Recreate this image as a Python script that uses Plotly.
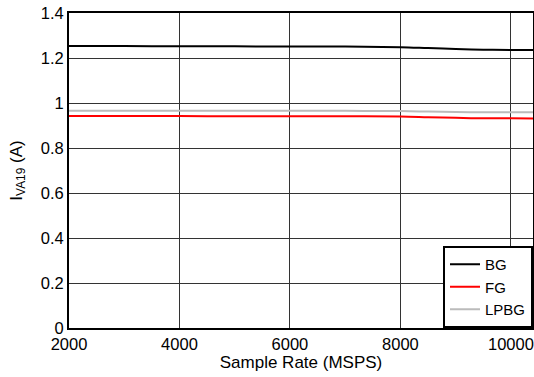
import plotly.graph_objects as go

sample_rate = [2000, 3000, 4000, 5000, 6000, 7000, 8000, 8500, 9000, 9500, 10000, 10400]
bg = [1.253, 1.253, 1.252, 1.252, 1.251, 1.251, 1.248, 1.244, 1.240, 1.237, 1.236, 1.235]
fg = [0.942, 0.942, 0.942, 0.941, 0.941, 0.941, 0.940, 0.937, 0.934, 0.932, 0.932, 0.931]
lpbg = [0.965, 0.965, 0.965, 0.965, 0.965, 0.965, 0.964, 0.962, 0.960, 0.959, 0.959, 0.959]

x_ticks = [2000, 4000, 6000, 8000, 10000]
x_tick_labels = ["2000", "4000", "6000", "8000", "10000"]
y_ticks = [0, 0.2, 0.4, 0.6, 0.8, 1, 1.2, 1.4]
y_tick_labels = ["0", "0.2", "0.4", "0.6", "0.8", "1", "1.2", "1.4"]

fig = go.Figure()
fig.add_trace(go.Scatter(x=sample_rate, y=bg, name="BG", mode="lines",
                         line=dict(color="black", width=2, shape="spline")))
fig.add_trace(go.Scatter(x=sample_rate, y=fg, name="FG", mode="lines",
                         line=dict(color="#ff0000", width=2, shape="spline")))
fig.add_trace(go.Scatter(x=sample_rate, y=lpbg, name="LPBG", mode="lines",
                         line=dict(color="#bbbbbb", width=2, shape="spline")))

fam = "Liberation Sans, Arial, Helvetica, sans-serif"
tick_font = dict(family=fam, size=16.5, color="black")
title_font = dict(family=fam, size=17, color="black")

fig.update_layout(
    width=534, height=377,
    margin=dict(l=69, r=1, t=13, b=49, autoexpand=False),
    paper_bgcolor="white", plot_bgcolor="white",
    font=tick_font,
    showlegend=True,
    legend=dict(x=1, y=0, xanchor="right", yanchor="bottom",
                bordercolor="black", borderwidth=2, bgcolor="white",
                font=dict(family=fam, size=15, color="black"),
                tracegroupgap=0, itemwidth=30, entrywidth=100,
                entrywidthmode="pixels"),
    xaxis=dict(range=[2000, 10400], tickvals=x_ticks, ticktext=x_tick_labels,
               ticks="", automargin=False, tickfont=tick_font,
               showgrid=True, gridcolor="#333333", gridwidth=1,
               showline=True, linecolor="black", linewidth=2, mirror=True,
               zeroline=False,
               title=dict(text="Sample Rate (MSPS)", standoff=2, font=title_font)),
    yaxis=dict(range=[0, 1.4], tickvals=y_ticks, ticktext=y_tick_labels,
               ticks="", automargin=False, tickfont=tick_font,
               showgrid=True, gridcolor="#333333", gridwidth=1,
               showline=True, linecolor="black", linewidth=2, mirror=True,
               zeroline=False,
               title=dict(text="I<sub>VA19</sub> (A)", standoff=14, font=title_font)),
)

fig.write_html("out.html", config={"displayModeBar": False},
               post_script="document.body.style.margin='0';document.body.style.padding='0';")
